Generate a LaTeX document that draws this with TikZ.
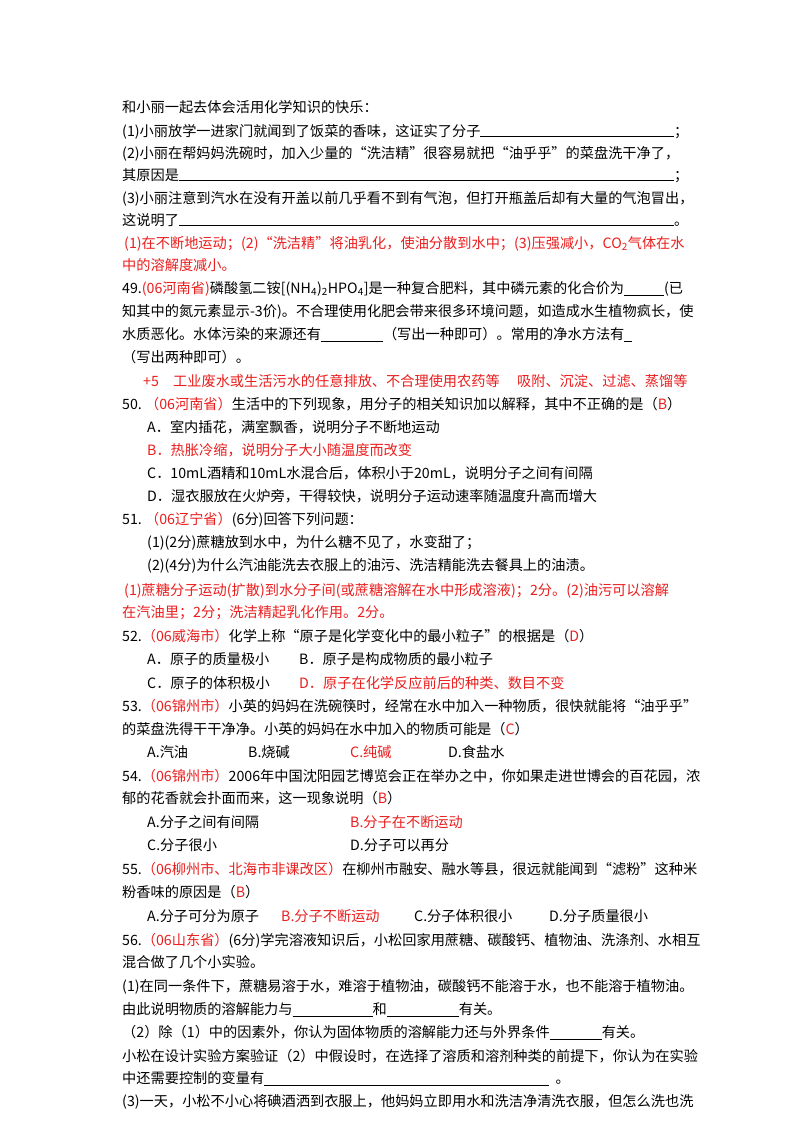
\documentclass[tikz,border=0pt]{standalone}
\usepackage{fontspec}
\setmainfont{Noto Sans CJK SC}
\usepackage{xcolor}
\definecolor{ans}{RGB}{235,30,30}
\newcommand{\rd}[1]{\textcolor{ans}{#1}}
\newcommand{\bl}[1]{\rule[-2.5pt]{#1pt}{0.6pt}}
\tikzset{ln/.style={anchor=base west,inner sep=0pt,font=\fontsize{14.2pt}{17pt}\selectfont},
 full/.style={ln,text width=566pt,align=left}}
\begin{document}
\begin{tikzpicture}[x=1pt,y=-1pt]
\useasboundingbox (0,0) rectangle (800,1132);
\fill[white] (0,0) rectangle (800,1132);
\node[ln] (a1) at (122,112) {和小丽一起去体会活用化学知识的快乐：};
\node[full] (a2) at (122,136) {(1)小丽放学一进家门就闻到了饭菜的香味，这证实了分子\hrulefill；};
\node[ln] (a3) at (122,158) {(2)小丽在帮妈妈洗碗时，加入少量的“洗洁精”很容易就把“油乎乎”的菜盘洗干净了，};
\node[full] (a4) at (122,180) {其原因是\hrulefill；};
\node[ln] (a5) at (122,203) {(3)小丽注意到汽水在没有开盖以前几乎看不到有气泡，但打开瓶盖后却有大量的气泡冒出，};
\node[full] (a6) at (122,225) {这说明了\hrulefill。};
\node[ln] (a7) at (124,248) {\rd{(1)在不断地运动；(2)“洗洁精”将油乳化，使油分散到水中；(3)压强减小，CO\textsubscript{2}气体在水}};
\node[ln] (a8) at (122,270) {\rd{中的溶解度减小。}};
\node[ln] (b1) at (122,293) {49.\rd{(06河南省)}磷酸氢二铵[(NH\textsubscript{4})\textsubscript{2}HPO\textsubscript{4}]是一种复合肥料，其中磷元素的化合价为\bl{40}(已};
\node[ln] (b2) at (122,316) {知其中的氮元素显示-3价)。不合理使用化肥会带来很多环境问题，如造成水生植物疯长，使};
\node[ln] (b3) at (122,339) {水质恶化。水体污染的来源还有\bl{62}（写出一种即可）。常用的净水方法有\bl{8}};
\node[ln] (b4) at (122,362) {（写出两种即可）。};
\node[ln] (b5) at (143,386) {\rd{+5\quad 工业废水或生活污水的任意排放、不合理使用农药等\quad\ 吸附、沉淀、过滤、蒸馏等}};
\node[ln] (c1) at (122,409) {50.\ \rd{（06河南省）}生活中的下列现象，用分子的相关知识加以解释，其中不正确的是（\rd{B}）};
\node[ln] (c2) at (147,432) {A．室内插花，满室飘香，说明分子不断地运动};
\node[ln] (c3) at (147,455) {\rd{B．热胀冷缩，说明分子大小随温度而改变}};
\node[ln] (c4) at (147,478) {C．10mL酒精和10mL水混合后，体积小于20mL，说明分子之间有间隔};
\node[ln] (c5) at (147,501) {D．湿衣服放在火炉旁，干得较快，说明分子运动速率随温度升高而增大};
\node[ln] (d1) at (122,524) {51.\ \rd{（06辽宁省）}(6分)回答下列问题：};
\node[ln] (d2) at (147,547) {(1)(2分)蔗糖放到水中，为什么糖不见了，水变甜了；};
\node[ln] (d3) at (147,570) {(2)(4分)为什么汽油能洗去衣服上的油污、洗洁精能洗去餐具上的油渍。};
\node[ln] (d4) at (124,595) {\rd{(1)蔗糖分子运动(扩散)到水分子间(或蔗糖溶解在水中形成溶液)；2分。(2)油污可以溶解}};
\node[ln] (d5) at (122,617) {\rd{在汽油里；2分；洗洁精起乳化作用。2分。}};
\node[ln] (e1) at (122,641) {52.\rd{（06威海市）}化学上称“原子是化学变化中的最小粒子”的根据是（\rd{D}）};
\node[ln] (e2) at (147,664) {A．原子的质量极小};
\node[ln] (e3) at (299,664) {B．原子是构成物质的最小粒子};
\node[ln] (e4) at (147,688) {C．原子的体积极小};
\node[ln] (e5) at (299,688) {\rd{D．原子在化学反应前后的种类、数目不变}};
\node[ln] (f1) at (122,711) {53.\rd{（06锦州市）}小英的妈妈在洗碗筷时，经常在水中加入一种物质，很快就能将“油乎乎”};
\node[ln] (f2) at (122,734) {的菜盘洗得干干净净。小英的妈妈在水中加入的物质可能是（\rd{C}）};
\node[ln] (f3) at (147,757) {A.汽油};
\node[ln] (f4) at (248,757) {B.烧碱};
\node[ln] (f5) at (350,757) {\rd{C.纯碱}};
\node[ln] (f6) at (448,757) {D.食盐水};
\node[ln] (g1) at (122,781) {54.\rd{（06锦州市）}2006年中国沈阳园艺博览会正在举办之中，你如果走进世博会的百花园，浓};
\node[ln] (g2) at (122,803) {郁的花香就会扑面而来，这一现象说明（\rd{B}）};
\node[ln] (g3) at (147,827) {A.分子之间有间隔};
\node[ln] (g4) at (350,827) {\rd{B.分子在不断运动}};
\node[ln] (g5) at (147,850) {C.分子很小};
\node[ln] (g6) at (350,850) {D.分子可以再分};
\node[ln] (h1) at (122,874) {55.\rd{（06柳州市、北海市非课改区）}在柳州市融安、融水等县，很远就能闻到“滤粉”这种米};
\node[ln] (h2) at (122,897) {粉香味的原因是（\rd{B}）};
\node[ln] (h3) at (147,921) {A.分子可分为原子};
\node[ln] (h4) at (281,921) {\rd{B.分子不断运动}};
\node[ln] (h5) at (414,921) {C.分子体积很小};
\node[ln] (h6) at (549,921) {D.分子质量很小};
\node[ln] (i1) at (122,945) {56.\rd{（06山东省）}(6分)学完溶液知识后，小松回家用蔗糖、碳酸钙、植物油、洗涤剂、水相互};
\node[ln] (i2) at (122,967) {混合做了几个小实验。};
\node[ln] (i3) at (122,991) {(1)在同一条件下，蔗糖易溶于水，难溶于植物油，碳酸钙不能溶于水，也不能溶于植物油。};
\node[ln] (i4) at (122,1014) {由此说明物质的溶解能力与\bl{80}和\bl{72}有关。};
\node[ln] (i5) at (122,1037) {（2）除（1）中的因素外，你认为固体物质的溶解能力还与外界条件\bl{52}有关。};
\node[ln] (i6) at (122,1061) {小松在设计实验方案验证（2）中假设时，在选择了溶质和溶剂种类的前提下，你认为在实验};
\node[ln] (i7) at (122,1083) {中还需要控制的变量有\bl{285}\ \ 。};
\node[ln] (i8) at (122,1106) {(3)一天，小松不小心将碘酒洒到衣服上，他妈妈立即用水和洗洁净清洗衣服，但怎么洗也洗};
\end{tikzpicture}
\end{document}
